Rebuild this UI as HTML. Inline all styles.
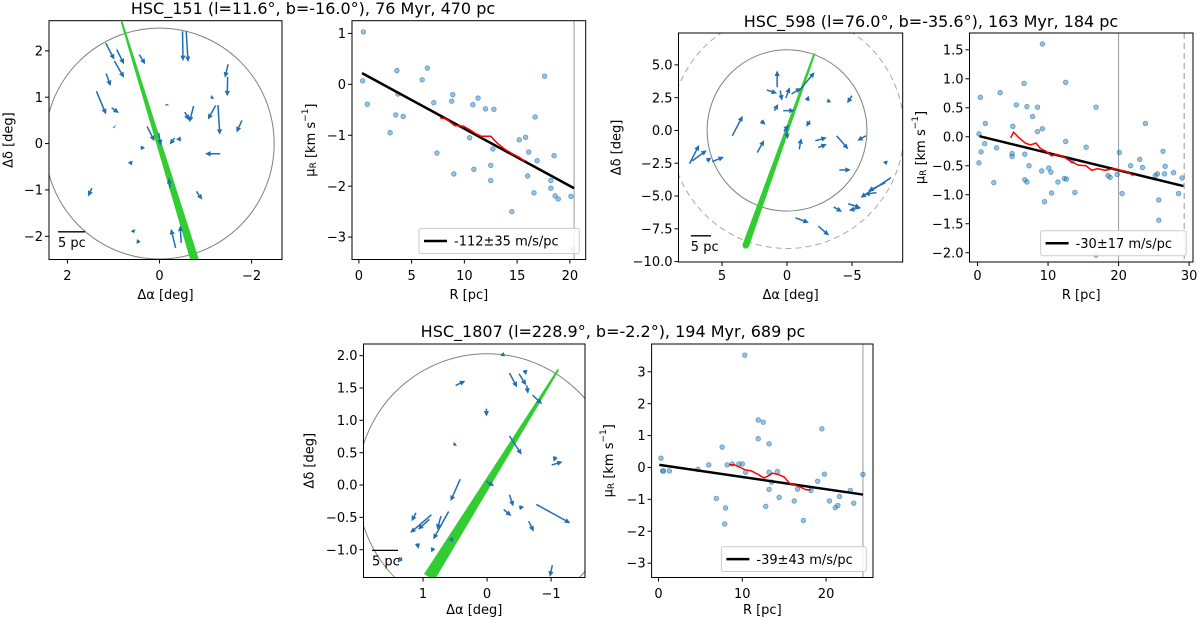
<!DOCTYPE html>
<html><head><meta charset="utf-8">
<style>
html,body{margin:0;padding:0;background:#fff;}
svg{display:block;font-family:"DejaVu Sans","Liberation Sans",sans-serif;}
</style></head>
<body>
<svg id="fig" width="1200" height="619" viewBox="0 0 1200 619" xmlns="http://www.w3.org/2000/svg"></svg>
<script>
// ---------- DATA ----------
const p1TailA=[1.17,0.93,0.98,0.44,-0.5,-0.58,1.16,1.37,1.04,-1.49,-1.48,-1.27,-1.22,-0.74,-0.55,0.27,0.02,-1.79,-1.32,-0.33,-0.47,0.36,0.64,1.47,-0.8,-0.23,-0.35,-0.47,0.58,0.5,-1.16,-0.16,0.99];
const p1TailD=[2.17,2.03,1.78,1.92,2.42,2.42,1.51,1.13,0.77,1.71,1.44,0.83,0.82,0.81,0.68,0.37,0.23,0.5,-0.22,0.12,0.1,-0.06,-0.38,-0.96,-1.03,-0.96,-2.25,-2.14,-1.86,-2.11,1.01,0.82,0.37];
const p1HeadA=[0.98,0.77,0.77,0.31,-0.51,-0.62,1.06,1.16,0.88,-1.42,-1.47,-1.31,-1.05,-0.65,-0.64,0.11,-0.03,-1.67,-0.99,-0.22,-0.36,0.4,0.6,1.55,-0.93,-0.2,-0.25,-0.45,0.55,0.41,-1.11,-0.16,0.97];
const p1HeadD=[1.81,1.71,1.42,1.71,1.78,1.76,1.24,0.63,0.66,1.42,1.02,0.19,0.52,0.46,0.5,0.05,-0.04,0.24,-0.22,-0.02,0.09,-0.14,-0.47,-1.14,-1.21,-0.74,-1.84,-1.77,-1.93,-2.12,0.97,0.86,0.35];
const p1Band=[0.82,2.62,-0.76,-2.5];
const p2R=[0.43,0.36,0.8,3.6,3.7,2.96,3.5,4.2,6.0,6.5,7.1,8.9,8.8,7.4,9.0,10.5,10.8,11.3,10.9,12.0,12.8,12.7,12.5,12.5,14.5,15.2,15.8,16.1,16.7,16.0,16.9,16.6,17.6,18.5,18.2,18.2,18.6,18.9,20.1,20.3];
const p2Mu=[1.03,0.07,-0.39,0.27,-0.19,-0.95,-0.6,-0.63,0.09,0.32,-0.36,-0.2,-0.33,-1.35,-1.76,-1.05,-0.4,-0.27,-1.67,-0.48,-0.49,-1.27,-1.59,-1.89,-2.5,-1.09,-1.04,-1.33,-0.64,-1.8,-1.5,-2.13,0.16,-1.4,-1.89,-2.04,-2.19,-2.25,-2.2,-3.24];
const p2FitR=[0.3,20.4];
const p2FitMu=[0.22,-2.04];
const p2RunR=[7.7,8.2,9.1,9.9,10.5,11.1,11.6,12.5,13.1,13.8,14.7,15.2,15.7];
const p2RunMu=[-0.66,-0.67,-0.81,-0.82,-0.89,-0.97,-1.02,-1.02,-1.15,-1.27,-1.38,-1.43,-1.51];
const p2VLine=[20.4];
const p3TailA=[4.21,7.5,7.29,6.18,5.76,2.29,2.0,0.76,1.56,0.53,0.09,0.97,0.29,-0.35,-0.94,-1.53,-1.76,-0.94,-2.18,-2.41,-3.82,-6.06,-3.29,-5.0,-4.03,-8.0,-7.56,-6.88,-5.65,-4.71,-3.59,-0.65,-2.41,-7.56,0.09,0.24];
const p3TailD=[-0.41,-2.53,-2.32,-2.32,-2.37,-1.68,0.74,3.29,3.09,3.04,2.47,1.51,1.51,2.78,3.04,2.27,0.74,-1.43,-0.79,-1.3,-0.41,-0.41,2.32,2.65,-3.01,-3.6,-3.98,-4.74,-5.89,-5.59,-5.84,-6.66,-7.3,-2.32,0.23,-0.03];
const p3HeadA=[3.41,6.76,6.18,5.82,4.85,1.76,1.65,0.76,0.76,0.38,-0.21,0.68,-0.59,-1.09,-2.12,-1.68,-1.47,-1.09,-3.06,-3.06,-4.71,-5.41,-3.06,-4.62,-4.91,-5.65,-6.24,-5.94,-4.76,-5.65,-4.24,-1.68,-3.24,-7.65,-0.06,-0.15];
const p3HeadD=[1.12,-1.1,-1.51,-2.07,-2.02,-0.74,0.43,4.57,2.83,2.27,3.29,2.02,1.51,3.24,4.44,2.65,0.28,-0.59,-0.54,-1.05,-1.43,-0.79,2.12,2.07,-3.01,-5.13,-4.62,-4.87,-6.1,-5.89,-6.2,-7.04,-8.01,-2.63,-0.66,0.43];
const p3Band=[-2.1,5.84,3.18,-8.78];
const p4R=[0.2,0.4,0.2,0.5,1.0,1.1,2.3,2.7,3.2,4.9,5.0,4.9,5.5,6.6,6.7,6.7,7.0,7.0,7.3,7.8,8.5,8.5,9.2,9.2,9.1,9.5,10.1,10.4,10.5,11.4,12.5,12.5,12.3,12.6,13.4,13.8,15.4,16.8,16.8,18.5,18.8,20.1,19.8,20.5,21.7,23.0,23.4,23.8,25.2,25.5,25.7,25.7,26.3,26.6,26.5,27.8,28.5,29.0];
const p4Mu=[0.05,0.68,-0.45,-0.26,-0.12,0.23,-0.79,-0.19,0.76,-0.29,0.18,-0.34,0.55,0.92,-0.3,-0.74,-0.78,0.52,-0.5,0.35,0.51,0.09,1.6,0.14,-0.59,-1.12,-0.54,-0.61,-0.97,-0.78,0.94,-0.08,-0.72,-0.73,-0.42,-0.96,-0.18,0.51,-2.04,-0.67,-0.7,-0.27,-0.65,-0.98,-0.5,-0.39,-0.53,0.23,-0.67,-0.64,-1.09,-1.44,-0.25,-0.51,-0.64,-0.62,-0.98,-0.71];
const p4FitR=[0.27,29.2];
const p4FitMu=[0.01,-0.85];
const p4RunR=[4.7,5.1,5.8,6.8,7.5,8.3,8.9,9.7,10.5,11.1,12.1,12.9,13.5,14.3,15.4,16.2,17.0,18.1,19.2,20.3,21.3,22.1];
const p4RunMu=[-0.02,0.08,-0.01,-0.11,-0.14,-0.11,-0.2,-0.25,-0.33,-0.3,-0.34,-0.4,-0.44,-0.49,-0.5,-0.58,-0.55,-0.58,-0.55,-0.58,-0.61,-0.67];
const p4VLine=[20.0];
const p4VDash=[29.3];
const p5TailA=[0.49,-0.35,-0.5,-0.59,-0.62,-0.71,0.01,-0.35,0.49,-1.07,-1.01,0.01,0.42,0.6,0.72,0.87,0.9,1.11,-0.35,-0.5,-0.26,-0.77,-0.65,1.09,0.84,0.57,1.33,-1.02,-0.23];
const p5TailD=[1.54,1.73,1.72,1.78,1.54,1.39,1.18,0.76,0.64,0.44,0.31,0.06,0.09,-0.41,-0.48,-0.46,-0.53,-0.43,-0.15,-0.35,-0.38,-0.3,-0.56,-0.9,-0.97,-0.82,-1.12,-1.24,2.03];
const p5HeadA=[0.34,-0.47,-0.61,-0.61,-0.64,-0.86,0.01,-0.54,0.53,-1.04,-1.18,-0.11,0.57,0.84,0.78,1.2,1.08,1.18,-0.41,-0.58,-0.38,-1.3,-0.73,1.07,0.87,0.53,1.4,-0.98,-0.28];
const p5HeadD=[1.61,1.51,1.54,1.7,1.41,1.25,1.06,0.47,0.61,0.36,0.36,-0.02,-0.25,-0.84,-0.69,-0.74,-0.69,-0.56,-0.33,-0.34,-0.48,-0.59,-0.72,-0.99,-1.04,-0.88,-1.2,-1.42,1.99];
const p5Band=[-1.11,1.78,0.9,-1.42];
const p6R=[0.3,0.5,0.6,1.3,4.7,6.0,6.9,7.6,8.0,7.9,8.2,8.8,9.6,10.0,10.3,10.4,11.9,12.5,11.9,12.8,13.2,13.2,13.2,13.5,14.2,14.4,14.9,16.2,16.6,17.3,18.2,19.0,19.5,19.8,20.4,21.1,21.4,21.6,22.9,23.3,24.4];
const p6Mu=[0.29,-0.11,-0.11,-0.11,-0.06,0.08,-0.97,0.64,-1.27,-1.77,0.08,0.11,0.11,0.11,3.52,-0.15,1.49,1.42,0.9,-1.22,0.74,-0.69,-0.15,-0.46,-0.13,-0.94,-3.12,-1.05,-0.68,-1.66,-0.72,-0.43,1.21,-0.21,-1.05,-1.26,-1.19,-0.91,-0.72,-1.12,-0.22];
const p6FitR=[0.1,24.4];
const p6FitMu=[0.08,-0.85];
const p6RunR=[8.4,9.0,9.7,10.3,11.1,11.9,12.6,13.2,13.6,14.3,15.0,15.7,16.3,16.9,17.6,18.2];
const p6RunMu=[0.08,0.09,0.01,-0.07,-0.11,-0.22,-0.33,-0.25,-0.18,-0.22,-0.3,-0.51,-0.56,-0.61,-0.7,-0.7];
const p6VLine=[24.4];

// ---------- DRAWING ----------
const NS="http://www.w3.org/2000/svg";
const svg=document.getElementById('fig');
function mk(tag,attrs,parent){const e=document.createElementNS(NS,tag);for(const k in attrs)e.setAttribute(k,attrs[k]);(parent||svg).appendChild(e);return e;}
const BLUE='#1f6db3', GREEN='#32cd32';
const MINUS='\u2212';
const FS=13;
function fmt(v,dec){let s=v.toFixed(dec);if(v<0)s=MINUS+s.slice(1);if(Math.abs(v)<1e-9)s=(0).toFixed(dec);return s;}
let clipN=0;

function makeAxes(name,box,xr,yr,xt,yt,dec,xlab,ylab,ylabX,tickY,xlabY){
  const [x0,y0,x1,y1]=box;
  const sx=v=>x0+(v-xr[0])/(xr[1]-xr[0])*(x1-x0);
  const sy=v=>y1-(v-yr[0])/(yr[1]-yr[0])*(y1-y0);
  const g=mk('g',{});
  
  
  const id='clip'+(clipN++);
  const cp=mk('clipPath',{id:id},g);
  mk('rect',{x:x0,y:y0,width:x1-x0,height:y1-y0},cp);
  const plot=mk('g',{'clip-path':'url(#'+id+')'},g);
  
  
  const ticks=mk('g',{},g);
  
  
  xt.forEach(v=>{const X=sx(v);
    mk('line',{x1:X,x2:X,y1:y1,y2:y1+4,stroke:'#000','stroke-width':1},ticks);
    const t=mk('text',{x:X,y:tickY,'text-anchor':'middle','font-size':FS,fill:'#000'},ticks);
    
    
    t.textContent=fmt(v,0);});
  yt.forEach(v=>{const Y=sy(v);
    mk('line',{x1:x0-4,x2:x0,y1:Y,y2:Y,stroke:'#000','stroke-width':1},ticks);
    const t=mk('text',{x:x0-6,y:Y+4.6,'text-anchor':'end','font-size':FS,fill:'#000'},ticks);
    
    
    t.textContent=fmt(v,dec);});
  const xl=mk('text',{x:(x0+x1)/2,y:xlabY,'text-anchor':'middle','font-size':FS,fill:'#000'},g);
  
  
  xl.innerHTML=xlab;
  const yc=(y0+y1)/2;
  const yl=mk('text',{x:ylabX,y:yc,'text-anchor':'middle','font-size':FS,fill:'#000',transform:'rotate(-90 '+ylabX+' '+yc+')','dominant-baseline':'central'},g);
  
  
  yl.innerHTML=ylab;
  return {g,plot,sx,sy,box,frame:()=>{const f=mk('rect',{x:x0,y:y0,width:x1-x0,height:y1-y0,fill:'none',stroke:'#000','stroke-width':1},g);}};
}

function quiverPanel(ax,tA,tD,hA,hD,band,circR,dashR,bandCap,scale){
  const p=ax.plot;
  const cx=ax.sx(0),cy=ax.sy(0);
  const rx=Math.abs(ax.sx(circR)-cx), ry=Math.abs(ax.sy(circR)-cy);
  const c=mk('ellipse',{cx:cx,cy:cy,rx:rx,ry:ry,fill:'none',stroke:'#808080','stroke-width':1},p);
  
  
  if(dashR){const rx2=Math.abs(ax.sx(dashR)-cx), ry2=Math.abs(ax.sy(dashR)-cy);
    const d=mk('ellipse',{cx:cx,cy:cy,rx:rx2,ry:ry2,fill:'none',stroke:'#aaa','stroke-width':1,'stroke-dasharray':'6,4'},p);
    
    }
  const X0=ax.sx(band[0]),Y0=ax.sy(band[1]),X1=ax.sx(band[2]),Y1=ax.sy(band[3]);
  const L=Math.hypot(X1-X0,Y1-Y0),nx=-(Y1-Y0)/L,ny=(X1-X0)/L;
  const w0=0.6,w1=bandCap;
  const poly=[[X0+nx*w0,Y0+ny*w0],[X1+nx*w1,Y1+ny*w1],[X1-nx*w1,Y1-ny*w1],[X0-nx*w0,Y0-ny*w0]];
  const b=mk('polygon',{points:poly.map(q=>q.join(',')).join(' '),fill:GREEN,stroke:GREEN,'stroke-width':0.8},p);
  
  
  if(band.round){mk('circle',{cx:X1,cy:Y1,r:w1,fill:GREEN},p);}
  for(let i=0;i<tA.length;i++){
    const ax0=ax.sx(tA[i]),ay0=ax.sy(tD[i]),ax1=ax.sx(hA[i]),ay1=ax.sy(hD[i]);
    const dx=ax1-ax0,dy=ay1-ay0,len=Math.hypot(dx,dy)||1,ux=dx/len,uy=dy/len;
    const hl=Math.min(5.5,len*0.9),hw=2.6;
    const bx=ax1-ux*hl,by=ay1-uy*hl;
    const ag=mk('g',{},p);
    
    
    mk('line',{x1:ax0,y1:ay0,x2:bx,y2:by,stroke:BLUE,'stroke-width':1.5},ag);
    mk('polygon',{points:`${ax1},${ay1} ${bx-uy*hw},${by+ux*hw} ${bx+uy*hw},${by-ux*hw}`,fill:BLUE},ag);
  }
  const sb=mk('g',{},ax.g);
  
  
  mk('line',{x1:scale[0],x2:scale[1],y1:scale[2],y2:scale[2],stroke:'#000','stroke-width':1.3},sb);
  const t=mk('text',{x:scale[0],y:scale[2]+15,'font-size':FS,fill:'#000'},sb);
  t.textContent='5 pc';
  ax.frame();
}

function scatterPanel(ax,R,Mu,fR,fMu,rR,rMu,vl,vd,legText,leg){
  const p=ax.plot;
  vl.forEach(v=>{const l=mk('line',{x1:ax.sx(v),x2:ax.sx(v),y1:ax.box[1],y2:ax.box[3],stroke:'#999','stroke-width':1},p);});
  (vd||[]).forEach(v=>{const l=mk('line',{x1:ax.sx(v),x2:ax.sx(v),y1:ax.box[1],y2:ax.box[3],stroke:'#999','stroke-width':1,'stroke-dasharray':'6,4'},p);});
  for(let i=0;i<R.length;i++){
    const c=mk('circle',{cx:ax.sx(R[i]),cy:ax.sy(Mu[i]),r:2.3,fill:'rgba(31,119,180,0.45)',stroke:'rgba(31,119,180,0.65)','stroke-width':0.8},p);
    
    
  }
  const f=mk('line',{x1:ax.sx(fR[0]),y1:ax.sy(fMu[0]),x2:ax.sx(fR[1]),y2:ax.sy(fMu[1]),stroke:'#000','stroke-width':2.5},p);
  
  
  const pts=rR.map((r,i)=>ax.sx(r)+','+ax.sy(rMu[i])).join(' ');
  const rl=mk('polyline',{points:pts,fill:'none',stroke:'#ff0000','stroke-width':1.5},p);
  
  
  const lg=mk('g',{},ax.g);
  
  
  mk('rect',{x:leg[0],y:leg[1],width:leg[2]-leg[0],height:leg[3]-leg[1],rx:2,fill:'rgba(255,255,255,0.85)',stroke:'#ccc','stroke-width':1},lg);
  const my=(leg[1]+leg[3])/2;
  mk('line',{x1:leg[0]+5,x2:leg[0]+28,y1:my,y2:my,stroke:'#000','stroke-width':2.5},lg);
  const t=mk('text',{x:leg[0]+35,y:my+4.6,'font-size':FS,fill:'#000'},lg);
  
  
  t.textContent=legText;
  ax.frame();
}

const MU_LAB='μ<tspan font-size="9" dy="3">R</tspan><tspan dy="-3"> [km s</tspan><tspan font-size="9" dy="-5">−1</tspan><tspan dy="5">]</tspan>';

function title(txt,x,y,name){const t=mk('text',{x:x,y:y,'text-anchor':'middle','font-size':16,fill:'#000'});t.textContent=txt;}

title('HSC_151 (l=11.6°, b=-16.0°), 76 Myr, 470 pc',313,14,'title-hsc-151');
title('HSC_598 (l=76.0°, b=-35.6°), 163 Myr, 184 pc',931,27,'title-hsc-598');
title('HSC_1807 (l=228.9°, b=-2.2°), 194 Myr, 689 pc',613,337,'title-hsc-1807');

const a1=makeAxes('hsc151-sky-panel',[49,20.7,282,259.5],[2.4,-2.66],[-2.5,2.65],[2,0,-2],[-2,-1,0,1,2],0,'Δα [deg]','Δδ [deg]',9,280,299);
quiverPanel(a1,p1TailA,p1TailD,p1HeadA,p1HeadD,p1Band,2.49,null,3.8,[58,85,231.8]);
const a2=makeAxes('hsc151-velocity-panel',[352,20.7,585.7,259.5],[-0.65,21.5],[-3.44,1.25],[0,5,10,15,20],[-3,-2,-1,0,1],0,'R [pc]',MU_LAB,311,280,299);
scatterPanel(a2,p2R,p2Mu,p2FitR,p2FitMu,p2RunR,p2RunMu,p2VLine,null,'-112±35 m/s/pc',[419,228.4,579.3,253.5]);
const band3=p3Band.slice();band3.round=true;
const a3=makeAxes('hsc598-sky-panel',[678.5,33,902.7,262],[8.35,-8.9],[-10.03,7.43],[5,0,-5],[-10,-7.5,-5,-2.5,0,2.5,5],1,'Δα [deg]','Δδ [deg]',617,280,299);
quiverPanel(a3,p3TailA,p3TailD,p3HeadA,p3HeadD,band3,6.15,9.0,3,[690.8,711,235.8]);
const a4=makeAxes('hsc598-velocity-panel',[969.5,33,1193,262],[-1.14,30.55],[-2.16,1.79],[0,10,20,30],[-2,-1.5,-1,-0.5,0,0.5,1,1.5],1,'R [pc]',MU_LAB,921,280,299);
scatterPanel(a4,p4R,p4Mu,p4FitR,p4FitMu,p4RunR,p4RunMu,p4VLine,p4VDash,'-30±17 m/s/pc',[1040.6,230.8,1186.2,255.8]);
const a5=makeAxes('hsc1807-sky-panel',[363.5,344,585,577.5],[1.93,-1.53],[-1.43,2.18],[1,0,-1],[-1,-0.5,0,0.5,1,1.5,2],1,'Δα [deg]','Δδ [deg]',310,598,614);
quiverPanel(a5,p5TailA,p5TailD,p5HeadA,p5HeadD,p5Band,2.03,null,5.7,[372,398,550.4]);
const a6=makeAxes('hsc1807-velocity-panel',[651.6,344,873,577.5],[-0.82,25.6],[-3.45,3.87],[0,10,20],[-3,-2,-1,0,1,2,3],0,'R [pc]',MU_LAB,609,598,614);
scatterPanel(a6,p6R,p6Mu,p6FitR,p6FitMu,p6RunR,p6RunMu,p6VLine,null,'-39±43 m/s/pc',[721.4,546.8,866.2,571.5]);
</script>
</body></html>
